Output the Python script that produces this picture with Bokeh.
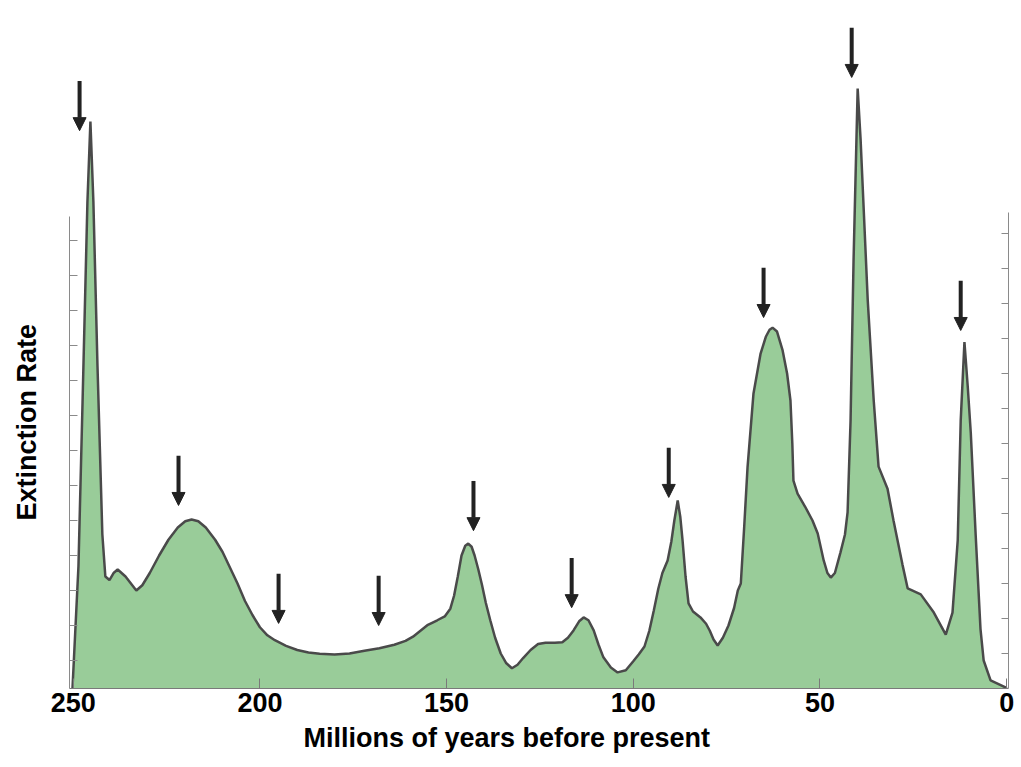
from bokeh.plotting import figure
from bokeh.models import Range1d, LinearAxis, FixedTicker, Title, Arrow, NormalHead, ColumnDataSource
from bokeh.embed import file_html
from bokeh.resources import INLINE

# ---- data ----
age = [250.2, 248.6, 247.5, 246.2, 245.4, 244.6, 243.5, 242.2, 241.4, 240.3,
       239.2, 238.1, 236.0, 233.1, 231.5, 229.5, 227.0, 224.5, 222.0, 220.0,
       218.3, 216.5, 214.5, 212.0, 210.0, 208.0, 206.0, 204.0, 202.0, 200.0,
       198.0, 196.0, 193.0, 190.0, 187.0, 184.0, 180.0, 176.0, 172.0, 168.0,
       164.0, 161.0, 159.0, 157.0, 155.0, 152.5, 150.5, 149.0, 148.0, 147.0,
       146.0, 145.0, 144.2, 143.3, 142.5, 141.5, 140.5, 139.5, 138.3, 137.0,
       135.5, 134.0, 132.5, 131.0, 129.5, 127.5, 125.5, 123.5, 121.0, 119.0,
       117.5, 116.0, 114.5, 113.3, 112.0, 110.6, 109.3, 108.0, 106.0, 104.2,
       102.0, 100.0, 98.5, 97.0, 95.7, 94.5, 93.3, 92.2, 90.8, 89.8,
       89.0, 88.1, 87.4, 86.8, 86.0, 85.2, 84.0, 82.0, 80.5, 79.5,
       78.5, 77.4, 76.0, 74.5, 73.0, 72.0, 71.2, 70.3, 69.4, 67.8,
       65.9, 64.5, 63.5, 62.7, 61.5, 60.0, 58.8, 57.9, 57.4, 57.1,
       56.0, 54.0, 52.0, 50.6, 49.0, 48.0, 47.1, 46.0, 44.5, 43.3,
       42.6, 41.8, 41.0, 39.9, 39.1, 37.2, 35.6, 34.3, 31.9, 30.3,
       27.9, 26.5, 23.0, 19.5, 16.3, 14.5, 13.1, 12.3, 11.3, 10.4,
       9.6, 8.3, 7.0, 6.15, 4.3, 0.3, 0.0]
rate = [0.0, 3.5, 8.2, 13.9, 16.2, 13.9, 9.2, 4.4, 3.2, 3.1,
        3.3, 3.4, 3.2, 2.8, 2.95, 3.3, 3.8, 4.25, 4.6, 4.78,
        4.83, 4.78, 4.6, 4.25, 3.9, 3.45, 3.0, 2.5, 2.1, 1.75,
        1.52, 1.38, 1.22, 1.1, 1.03, 0.99, 0.97, 1.0, 1.08, 1.15,
        1.25, 1.36, 1.48, 1.65, 1.82, 1.95, 2.06, 2.28, 2.65, 3.2,
        3.8, 4.08, 4.14, 4.05, 3.8, 3.4, 2.95, 2.45, 1.95, 1.45,
        1.0, 0.72, 0.58, 0.68, 0.87, 1.1, 1.27, 1.31, 1.31, 1.32,
        1.45, 1.66, 1.92, 2.03, 1.95, 1.66, 1.25, 0.89, 0.6, 0.46,
        0.52, 0.78, 0.98, 1.2, 1.65, 2.23, 2.85, 3.3, 3.66, 4.2,
        4.8, 5.37, 4.9, 4.23, 3.2, 2.43, 2.2, 2.03, 1.85, 1.65,
        1.4, 1.23, 1.45, 1.8, 2.3, 2.8, 3.0, 4.6, 6.31, 8.43,
        9.57, 10.05, 10.25, 10.31, 10.2, 9.66, 9.0, 8.23, 7.0, 5.94,
        5.57, 5.2, 4.8, 4.43, 3.66, 3.3, 3.17, 3.3, 3.89, 4.4,
        5.03, 7.66, 12.23, 17.14, 15.66, 11.09, 8.23, 6.34, 5.71, 4.8,
        3.54, 2.86, 2.69, 2.17, 1.54, 2.17, 4.23, 7.66, 9.9, 8.6,
        7.3, 4.4, 1.7, 0.8, 0.23, 0.03, 0.0]

event_age = [248.3, 221.8, 195.0, 168.2, 142.8, 116.5, 90.5, 65.1, 41.5, 12.3]
event_tip = [15.94, 5.23, 1.86, 1.80, 4.51, 2.31, 5.46, 10.60, 17.46, 10.23]

x_ticks = [250, 200, 150, 100, 50, 0]
left_ticks = [0.8, 1.8, 2.8, 3.8, 4.8, 5.8, 6.8, 7.8, 8.8, 9.8, 10.8, 11.8, 12.8]
right_ticks = [1, 2, 3, 4, 5, 6, 7, 8, 9, 10, 11, 12, 13]

x_title = "Millions of years before present"
y_title = "Extinction Rate"

ARROW_LEN = 1.42
FONT = "Liberation Sans"

p = figure(width=1016, height=763,
           x_range=Range1d(251, -0.5), y_range=Range1d(0, 19.43),
           output_backend="svg", toolbar_location=None,
           x_axis_type=None, y_axis_type=None,
           min_border_left=69, min_border_right=8,
           min_border_top=8, min_border_bottom=75)
p.outline_line_color = None
p.background_fill_color = "white"

# bottom axis
xa = LinearAxis(ticker=FixedTicker(ticks=x_ticks),
                major_tick_in=10, major_tick_out=0,
                minor_tick_in=0, minor_tick_out=0,
                axis_line_color="#7a7a7a", major_tick_line_color="#7a7a7a",
                major_label_text_font=FONT, major_label_text_font_style="bold",
                major_label_text_font_size="27px", major_label_text_color="black",
                major_label_standoff=4)
p.add_layout(xa, "below")

# left axis (ticks only, no labels drawn)
ya = LinearAxis(ticker=FixedTicker(ticks=left_ticks), bounds=(0, 13.5),
                major_tick_in=8, major_tick_out=0,
                minor_tick_in=0, minor_tick_out=0,
                axis_line_color="#8a8a8a", major_tick_line_color="#8a8a8a",
                major_label_text_font_size="1px", major_label_text_color=None,
                major_label_standoff=0)
p.add_layout(ya, "left")

# invisible spacer axis that pushes the y title outward
spacer = LinearAxis(ticker=FixedTicker(ticks=left_ticks), bounds=(0, 13.5),
                    major_tick_in=0, major_tick_out=23,
                    minor_tick_in=0, minor_tick_out=0,
                    axis_line_color=None, major_tick_line_color=None,
                    major_label_text_font_size="1px", major_label_text_color=None,
                    major_label_standoff=0)
p.add_layout(spacer, "left")

# right axis (ticks only, no labels drawn)
yr = LinearAxis(ticker=FixedTicker(ticks=right_ticks), bounds=(0, 13.6),
                major_tick_in=7, major_tick_out=0,
                minor_tick_in=0, minor_tick_out=0,
                axis_line_color="#8a8a8a", major_tick_line_color="#8a8a8a",
                major_label_text_font_size="1px", major_label_text_color=None,
                major_label_standoff=0)
p.add_layout(yr, "right")

# axis titles
p.add_layout(Title(text=x_title, align="left", offset=234, standoff=16,
                   vertical_align="top",
                   text_font=FONT, text_font_style="bold", text_font_size="27px",
                   text_color="black"), "below")
p.add_layout(Title(text=y_title, align="left", offset=168, standoff=10,
                   text_font=FONT, text_font_style="bold", text_font_size="27px",
                   text_color="black"), "left")

# curve
p.varea(x=age, y1=0, y2=rate, fill_color="#99cc99")
p.line(age, rate, line_color="#4a4a4a", line_width=2.5)

# arrows marking mass extinctions
src = ColumnDataSource(dict(x=event_age,
                            y0=[t + ARROW_LEN for t in event_tip],
                            y1=event_tip))
p.add_layout(Arrow(end=NormalHead(size=13, fill_color="#222222", line_color="#222222", line_width=1),
                   x_start="x", y_start="y0", x_end="x", y_end="y1",
                   source=src, line_width=4, line_color="#222222"))

open("out.html", "w").write(file_html(p, INLINE))
